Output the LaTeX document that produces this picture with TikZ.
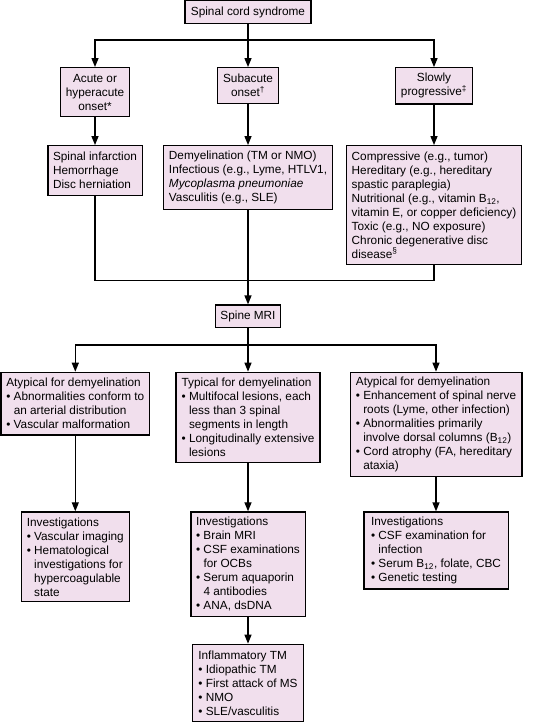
\documentclass[tikz,border=0pt]{standalone}
\usepackage{fontspec}
\setmainfont{Liberation Sans}
\usetikzlibrary{arrows.meta}
\definecolor{boxfill}{RGB}{241,223,237}
\newcommand{\hi}{\hphantom{•\ }}
\newcommand{\bu}{•\ }
\begin{document}
\begin{tikzpicture}[x=1pt,y=-1pt,
  bx/.style={draw=black,line width=1.3pt,fill=boxfill,align=left,inner sep=0pt,
    font=\fontsize{11.8}{14}\selectfont},
  bxc/.style={bx,align=center},
  ln/.style={line width=1.3pt},
  arr/.style={ln,-{Triangle[length=9pt,width=7pt]}}]
\useasboundingbox (0,0) rectangle (542,722);
% level 1
\node[bxc,minimum width=126,minimum height=22.6] (top) at (248,12) {Spinal cord syndrome};
% level 2
\node[bxc,minimum width=69.4,minimum height=48.6] (acute) at (95,92) {Acute or\\hyperacute\\onset*};
\node[bxc,minimum width=60.7,minimum height=35.6] (sub) at (248,85.5) {Subacute\\onset\textsuperscript{†}};
\node[bxc,minimum width=77.3,minimum height=36.3] (slow) at (434,85.9) {Slowly\\progressive\textsuperscript{‡}};
% level 3
\node[bx,minimum width=94.3,minimum height=49.6] (infarct) at (95,170.5) {Spinal infarction\\Hemorrhage\\Disc herniation};
\node[bx,minimum width=169.3,minimum height=64] (demyel) at (248,177.7) {Demyelination (TM or NMO)\\Infectious (e.g., Lyme, HTLV1,\\\textit{Mycoplasma pneumoniae}\\Vasculitis (e.g., SLE)};
\node[bx,minimum width=174.7,minimum height=118.6] (compress) at (434,205) {Compressive (e.g., tumor)\\Hereditary (e.g., hereditary\\spastic paraplegia)\\Nutritional (e.g., vitamin B\textsubscript{12},\\vitamin E, or copper deficiency)\\Toxic (e.g., NO exposure)\\Chronic degenerative disc\\disease\textsuperscript{§}};
% MRI
\node[bxc,minimum width=65.6,minimum height=22.3] (mri) at (248,316.2) {Spine MRI};
% level 5
\node[bx,minimum width=148.7,minimum height=62.7] (atyp1) at (75.3,403.7) {Atypical for demyelination\\\bu Abnormalities conform to\\\hi an arterial distribution\\\bu Vascular malformation};
\node[bx,minimum width=144,minimum height=90.4] (typ) at (248,417.5) {Typical for demyelination\\\bu Multifocal lesions, each\\\hi less than 3 spinal\\\hi segments in length\\\bu Longitudinally extensive\\\hi lesions};
\node[bx,minimum width=171.7,minimum height=104.4] (atyp2) at (436,424.5) {Atypical for demyelination\\\bu Enhancement of spinal nerve\\\hi roots (Lyme, other infection)\\\bu Abnormalities primarily\\\hi involve dorsal columns (B\textsubscript{12})\\\bu Cord atrophy (FA, hereditary\\\hi ataxia)};
% level 6
\node[bx,minimum width=107.7,minimum height=89.7] (inv1) at (75.3,556.8) {Investigations\\\bu Vascular imaging\\\bu Hematological\\\hi investigations for\\\hi hypercoagulable\\\hi state};
\node[bx,minimum width=114.3,minimum height=104.7] (inv2) at (248,564.3) {Investigations\\\bu Brain MRI\\\bu CSF examinations\\\hi for OCBs\\\bu Serum aquaporin\\\hi 4 antibodies\\\bu ANA, dsDNA};
\node[bx,minimum width=144.3,minimum height=77] (inv3) at (436,550.5) {Investigations\\\bu CSF examination for\\\hi infection\\\bu Serum B\textsubscript{12}, folate, CBC\\\bu Genetic testing};
% level 7
\node[bx,minimum width=110.7,minimum height=77] (inflam) at (248,682.8) {Inflammatory TM\\\bu Idiopathic TM\\\bu First attack of MS\\\bu NMO\\\bu SLE/vasculitis};
% junction coordinates
\coordinate (b1) at (95,40);
\coordinate (b3) at (434,40);
\coordinate (m1) at (95,280.7);
\coordinate (m3) at (434,280.7);
\coordinate (c1) at (75.3,345);
\coordinate (c3) at (436,345);
% connectors
\draw[arr] (top.south) -- (sub.north);
\draw[arr] (top.south) |- (b1) -- (acute.north);
\draw[arr] (top.south) |- (b3) -- (slow.north);
\draw[arr] (acute.south) -- (infarct.north);
\draw[arr] (sub.south) -- (demyel.north);
\draw[arr] (slow.south) -- (compress.north);
\draw[ln] (infarct.south) -- (m1) -- (m3) -- (compress.south);
\draw[arr] (demyel.south) -- (mri.north);
\draw[arr] (mri.south) -- (typ.north);
\draw[arr] (mri.south) |- (c1) -- (atyp1.north);
\draw[arr] (mri.south) |- (c3) -- (atyp2.north);
\draw[arr] (atyp1.south) -- (inv1.north);
\draw[arr] (typ.south) -- (inv2.north);
\draw[arr] (atyp2.south) -- (inv3.north);
\draw[arr] (inv2.south) -- (inflam.north);
\end{tikzpicture}
\end{document}
